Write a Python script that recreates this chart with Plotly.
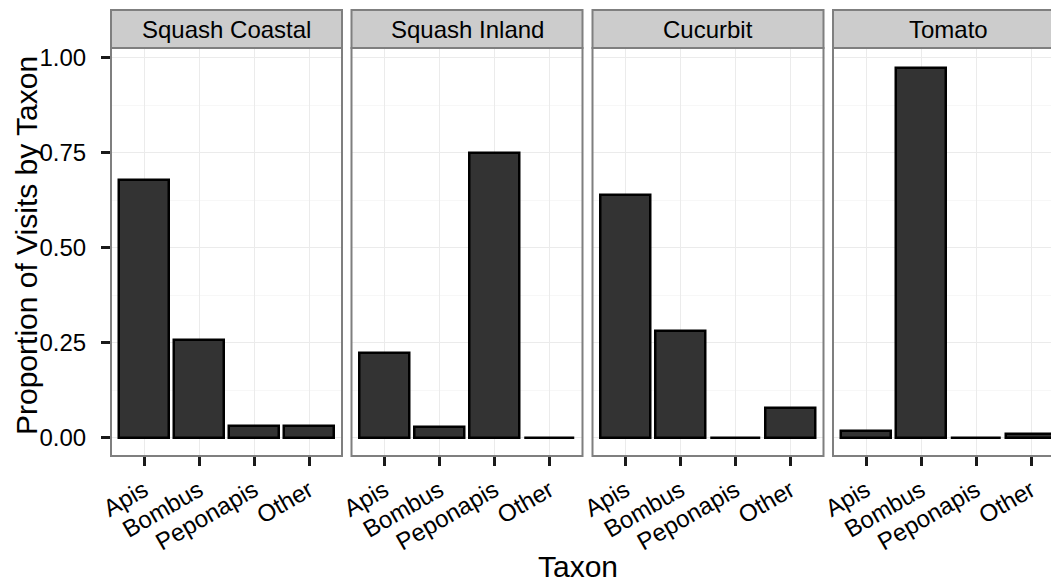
import plotly.graph_objects as go

# ---- data ----
categories = ["Apis", "Bombus", "Peponapis", "Other"]
facets = ["Squash Coastal", "Squash Inland", "Cucurbit", "Tomato"]
squash_coastal = [0.678, 0.258, 0.031, 0.031]
squash_inland = [0.223, 0.029, 0.749, 0.0]
cucurbit = [0.640, 0.282, 0.0, 0.078]
tomato = [0.018, 0.973, 0.0, 0.010]
y_ticks = [0.0, 0.25, 0.5, 0.75, 1.0]
y_tick_labels = ["0.00", "0.25", "0.50", "0.75", "1.00"]
x_title = "Taxon"
y_title = "Proportion of Visits by Taxon"

series = [squash_coastal, squash_inland, cucurbit, tomato]

# ---- layout geometry (pixels) ----
W, H = 1051, 582
def px(x):
    return x / W
def py(y):
    return 1 - y / H

panel_left = [111, 351.5, 592.5, 833]
panel_w = 231
panel_top, panel_bot = 48, 456
strip_top = 10
FONT = "Liberation Sans, Arial, sans-serif"

fig = go.Figure()
shapes = []
annotations = []
layout_axes = {}

for i, (name, vals) in enumerate(zip(facets, series)):
    n = i + 1
    xa = "x" if n == 1 else f"x{n}"
    ya = "y" if n == 1 else f"y{n}"
    fig.add_trace(go.Bar(
        x=categories, y=vals, xaxis=xa, yaxis=ya, width=0.9,
        marker=dict(color="#333333", line=dict(color="black", width=2.5)),
        showlegend=False, hoverinfo="x+y",
    ))
    left = panel_left[i]
    right = left + panel_w
    vis_right = min(right, W)
    # category range: full panel is [-0.6, 3.6]; clip last panel at page edge
    xr_end = -0.6 + 4.2 * (vis_right - left) / panel_w
    layout_axes["xaxis" if n == 1 else f"xaxis{n}"] = dict(
        domain=[px(left), px(vis_right)], anchor=ya,
        type="category", categoryorder="array", categoryarray=categories,
        range=[-0.6, xr_end], showgrid=True, gridcolor="#ebebeb", gridwidth=1,
        zeroline=False, showline=False, automargin=False,
        ticks="outside", ticklen=9, tickwidth=2.5, tickcolor="#1a1a1a",
        tickangle=-30, tickfont=dict(family=FONT, size=24, color="black"),
        ticklabelstandoff=1,
        fixedrange=True,
    )
    ya_cfg = dict(
        domain=[py(panel_bot), py(panel_top)], anchor=xa,
        range=[-0.0485, 1.026], tickvals=y_ticks, ticktext=y_tick_labels,
        showgrid=True, gridcolor="#ebebeb", gridwidth=1,
        minor=dict(tickvals=[0.125, 0.375, 0.625, 0.875], showgrid=True,
                   gridcolor="#f7f7f7", gridwidth=1),
        zeroline=False, showline=False, fixedrange=True, automargin=False,
    )
    if n == 1:
        ya_cfg.update(ticks="outside", ticklen=9, tickwidth=2.5, tickcolor="#1a1a1a",
                      tickfont=dict(family=FONT, size=24, color="black"),
                      ticklabelstandoff=10)
    else:
        ya_cfg.update(ticks="", showticklabels=False)
    layout_axes["yaxis" if n == 1 else f"yaxis{n}"] = ya_cfg

    # panel border
    shapes.append(dict(type="rect", xref="paper", yref="paper",
                       x0=px(left), x1=px(right), y0=py(panel_bot), y1=py(panel_top),
                       line=dict(color="#7f7f7f", width=2), fillcolor="rgba(0,0,0,0)",
                       layer="above"))
    # strip
    shapes.append(dict(type="rect", xref="paper", yref="paper",
                       x0=px(left), x1=px(right), y0=py(panel_top), y1=py(strip_top),
                       line=dict(color="#7f7f7f", width=2), fillcolor="#cccccc",
                       layer="above"))
    annotations.append(dict(text=name, xref="paper", yref="paper",
                            x=px(left + panel_w / 2), y=py((strip_top + panel_top) / 2),
                            xanchor="center", yanchor="middle", showarrow=False,
                            font=dict(family=FONT, size=24, color="black")))

annotations.append(dict(text=x_title, xref="paper", yref="paper",
                        x=px(578), y=py(566), xanchor="center", yanchor="middle",
                        showarrow=False, font=dict(family=FONT, size=30, color="black")))
annotations.append(dict(text=y_title, xref="paper", yref="paper",
                        x=px(26), y=py(246), xanchor="center", yanchor="middle",
                        textangle=-90, showarrow=False,
                        font=dict(family=FONT, size=30, color="black")))

fig.update_layout(
    width=W, height=H, margin=dict(l=0, r=0, t=0, b=0, pad=0, autoexpand=False),
    paper_bgcolor="white", plot_bgcolor="white",
    shapes=shapes, annotations=annotations, bargap=0,
    font=dict(family=FONT),
    **layout_axes,
)

fig.write_html(
    "out.html",
    config={"displayModeBar": False},
    post_script="document.body.style.margin='0';document.body.style.overflow='hidden';",
)
